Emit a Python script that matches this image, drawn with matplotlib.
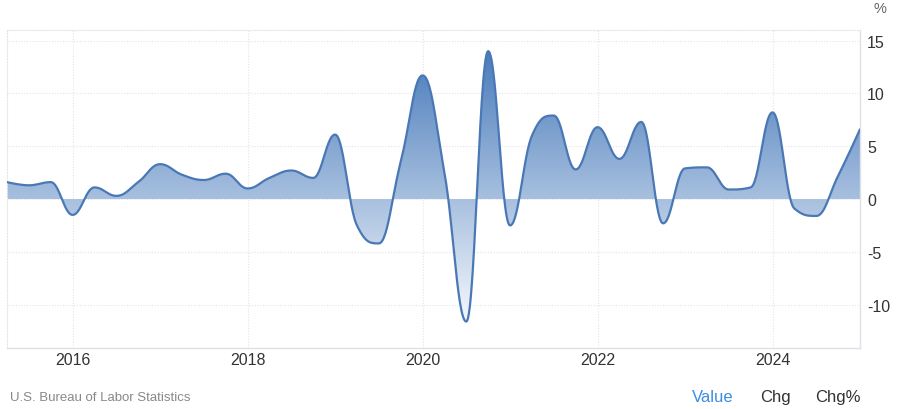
import numpy as np
import pandas as pd
import matplotlib
matplotlib.use('Agg')
import matplotlib.pyplot as plt
from matplotlib.patches import Polygon
from matplotlib.colors import LinearSegmentedColormap

plt.rcParams['font.family'] = ['Liberation Sans', 'DejaVu Sans']
plt.rcParams['axes.unicode_minus'] = False

# quarterly data (% change)
quarters = pd.period_range('2015Q2', '2025Q1', freq='Q')
values = [1.6, 1.3, 1.6, -1.5, 1.1, 0.3, 1.6, 3.3, 2.3, 1.8,
          2.4, 1.0, 2.0, 2.7, 2.0, 6.1, -2.5, -4.2, 3.5, 11.7,
          2.5, -11.6, 14.0, -2.5, 6.0, 7.9, 2.8, 6.8, 3.8, 7.3,
          -2.3, 2.9, 3.0, 0.9, 1.1, 8.2, -0.9, -1.6, 2.2, 6.6]
year_ticks = [2016, 2018, 2020, 2022, 2024]
y_ticks = [-10, -5, 0, 5, 10, 15]

xs = np.array([q.year + (q.quarter - 1) / 4 for q in quarters])
ys = np.array(values, dtype=float)


def spline_curve(xs, ys, smoothing=1.5, steps=30):
    # highcharts style spline: bezier segments with control points
    n = len(xs)
    left = [None] * n
    right = [None] * n
    for i in range(1, n - 1):
        lx, ly = xs[i - 1], ys[i - 1]
        px, py = xs[i], ys[i]
        nx, ny = xs[i + 1], ys[i + 1]
        d = smoothing + 1
        lcx = (smoothing * px + lx) / d
        lcy = (smoothing * py + ly) / d
        rcx = (smoothing * px + nx) / d
        rcy = (smoothing * py + ny) / d
        if rcx != lcx:
            corr = (rcy - lcy) * (rcx - px) / (rcx - lcx) + py - rcy
            lcy += corr
            rcy += corr
        if lcy > ly and lcy > py:
            lcy = max(ly, py)
            rcy = 2 * py - lcy
        elif lcy < ly and lcy < py:
            lcy = min(ly, py)
            rcy = 2 * py - lcy
        if rcy > ny and rcy > py:
            rcy = max(ny, py)
            lcy = 2 * py - rcy
        elif rcy < ny and rcy < py:
            rcy = min(ny, py)
            lcy = 2 * py - rcy
        left[i] = (lcx, lcy)
        right[i] = (rcx, rcy)
    cx, cy = [xs[0]], [ys[0]]
    t = np.linspace(0, 1, steps)[1:]
    for i in range(1, n):
        p0 = (xs[i - 1], ys[i - 1])
        c1 = right[i - 1] if right[i - 1] else p0
        p3 = (xs[i], ys[i])
        c2 = left[i] if left[i] else p3
        bx = (1 - t) ** 3 * p0[0] + 3 * (1 - t) ** 2 * t * c1[0] + 3 * (1 - t) * t ** 2 * c2[0] + t ** 3 * p3[0]
        by = (1 - t) ** 3 * p0[1] + 3 * (1 - t) ** 2 * t * c1[1] + 3 * (1 - t) * t ** 2 * c2[1] + t ** 3 * p3[1]
        cx.extend(bx)
        cy.extend(by)
    return np.array(cx), np.array(cy)


sx, sy = spline_curve(xs, ys)

fig = plt.figure(figsize=(9, 4.1), dpi=100)
ax = fig.add_axes([7 / 900, 61 / 410, 853 / 900, 318 / 410])
ax.set_xlim(xs[0], xs[-1])
ax.set_ylim(-14.1, 16.0)

# gradient fill clipped to the area between curve and zero
cmap = LinearSegmentedColormap.from_list('blu', ['#f5f8fd', '#4a7cbb'])
grad = np.linspace(0, 1, 256).reshape(-1, 1)
im = ax.imshow(grad, cmap=cmap, origin='lower', aspect='auto',
               extent=[xs[0], xs[-1], sy.min(), sy.max()], zorder=1)
verts = np.column_stack([np.r_[sx, sx[-1], sx[0]], np.r_[sy, 0, 0]])
poly = Polygon(verts, closed=True, transform=ax.transData, facecolor='none', edgecolor='none')
ax.add_patch(poly)
im.set_clip_path(poly)

ax.plot(sx, sy, color='#4a78b5', lw=1.6, zorder=3, solid_capstyle='round')

ax.set_xticks(year_ticks)
ax.set_xticklabels([str(y) for y in year_ticks])
ax.set_yticks(y_ticks)
ax.yaxis.tick_right()
ax.tick_params(axis='both', length=0, labelsize=11.5, colors='#333333')
ax.tick_params(axis='y', pad=5)
ax.tick_params(axis='x', pad=3)
ax.grid(True, color='#e4e4e4', linestyle=(0, (1, 1.5)), linewidth=0.8, zorder=0)
ax.set_axisbelow(True)

for side in ['top', 'left']:
    ax.spines[side].set_color('#e6e6e6')
    ax.spines[side].set_linestyle((0, (1, 1.5)))
    ax.spines[side].set_linewidth(0.8)
for side in ['right', 'bottom']:
    ax.spines[side].set_color('#e0e0e6')
    ax.spines[side].set_linewidth(1.0)

fig.text(880 / 900, 1 - 9 / 410, '%', ha='center', va='center', fontsize=10.5, color='#666666')
fig.text(10 / 900, 1 - 398 / 410, 'U.S. Bureau of Labor Statistics', ha='left', va='center',
         fontsize=9.5, color='#888888')
fig.text(692 / 900, 1 - 398 / 410, 'Value', ha='left', va='center', fontsize=12, color='#3a8ee0')
fig.text(760 / 900, 1 - 398 / 410, 'Chg', ha='left', va='center', fontsize=12, color='#333333')
fig.text(815 / 900, 1 - 398 / 410, 'Chg%', ha='left', va='center', fontsize=12, color='#333333')

fig.savefig('out.png', dpi=100)
